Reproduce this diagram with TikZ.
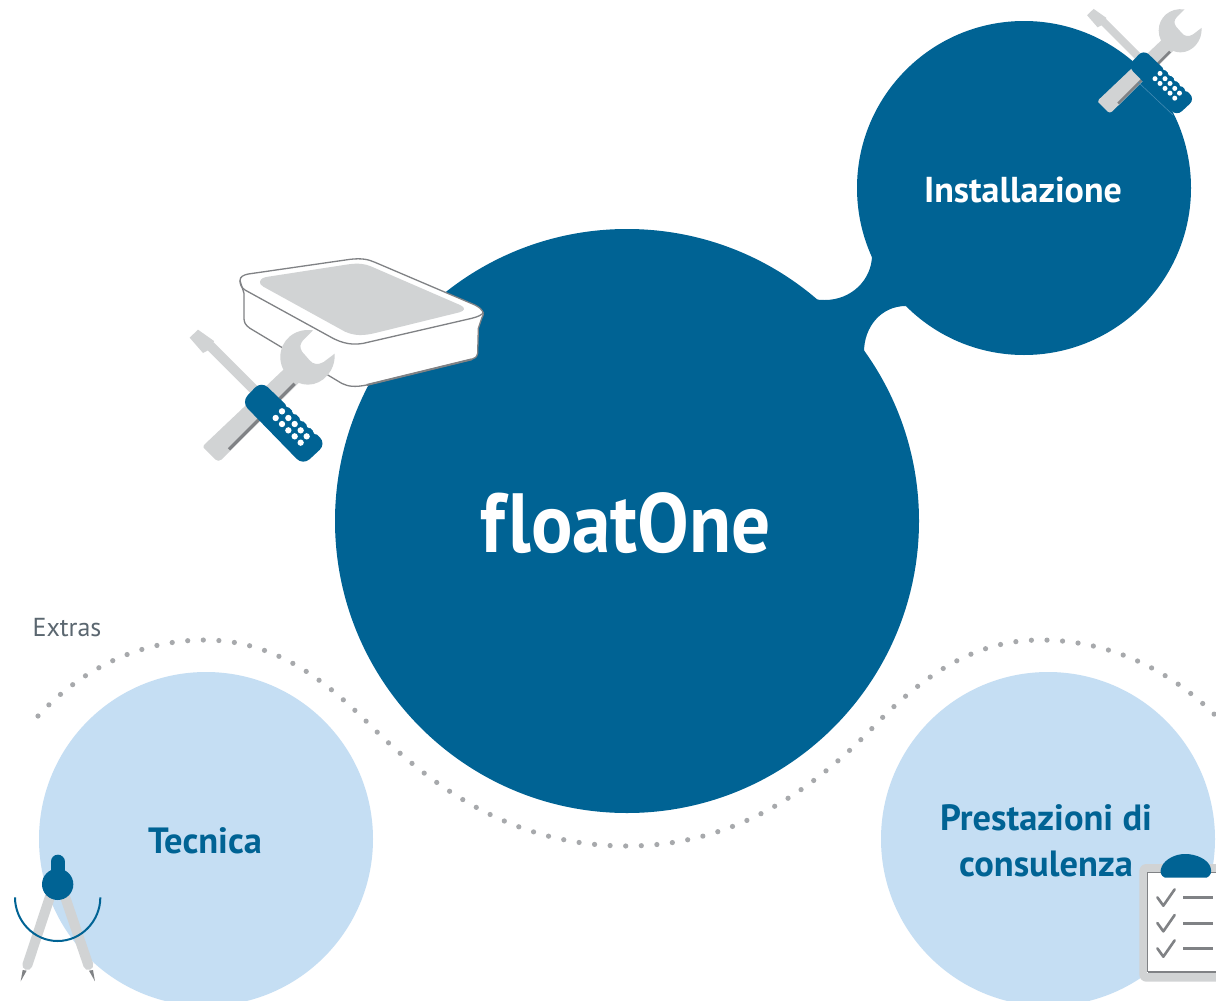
\documentclass[tikz,border=0pt]{standalone}
\usepackage{fontspec}
\setmainfont{PT Sans}
\definecolor{fblue}{HTML}{006394}
\definecolor{flight}{HTML}{C5DEF3}
\definecolor{tgray}{HTML}{D1D3D4}
\definecolor{dgray}{HTML}{808285}
\definecolor{dotgray}{HTML}{A7A9AC}
\definecolor{txtgray}{HTML}{5B6770}
\definecolor{edgeblue}{HTML}{4A90B8}
\tikzset{
  bigdisc/.style={circle,fill=fblue,draw=none,inner sep=0pt,minimum size=584pt},
  darkdisc/.style={circle,fill=fblue,draw=none,inner sep=0pt,minimum size=334pt},
  lightdisc/.style={circle,fill=flight,draw=none,inner sep=0pt,minimum size=334pt},
  whitelabel/.style={text=white,font=\bfseries\fontsize{36}{40}\selectfont,inner sep=0pt},
  bluelabel/.style={text=fblue,font=\bfseries\fontsize{36.5}{46}\selectfont,inner sep=0pt,align=center},
}
\newcommand{\toolset}[3]{%
\begin{scope}[shift={(#1,#2)},scale=#3/3,shift={(-250,-470)}]
  \fill[tgray] (30,262) -- (55,238) -- (103,272) -- (100,285) -- (85,300) -- (70,308) -- cycle;
  \draw[tgray,line width=#3*10pt] (92,287) -- (240,435);
  \fill[tgray] (72,592) .. controls (70,588) and (72,585) .. (75,582) -- (325,345) -- (375,380)
     -- (125,628) .. controls (120,633) and (112,632) .. (108,628) -- cycle;
  \draw[dgray,line width=#3*3.2pt] (148,597) -- (345,400);
  \fill[tgray] (400,240) .. controls (345,232) and (302,270) .. (302,320)
     .. controls (302,370) and (345,403) .. (385,403)
     .. controls (430,403) and (468,360) .. (465,310)
     -- (432,335) .. controls (415,345) and (400,342) .. (390,330)
     -- (368,305) .. controls (358,290) and (362,280) .. (370,270) -- cycle;
  \fill[fblue,rounded corners=#3*9pt] (245,392) -- (440,580) -- (370,645) -- (185,455) -- cycle;
  \foreach \px/\py in {307/483,288/503,326/503,307/521,345/521,326/540,363/540,345/558,381/558,363/577,
                       327/462,347/483,369/504,390/524,410/543}
    \fill[white] (\px,\py) circle[radius=9.5];
\end{scope}}
\begin{document}
\begin{tikzpicture}[x=1pt,y=-1pt]
  \path[clip] (0,0) rectangle (1216,1001);
  \fill[white] (0,0) rectangle (1216,1001);

  % dotted wave
  \draw[dotgray,line width=5.2pt,line cap=round,dash pattern=on 0pt off 15.6pt]
    (38,716) .. controls (85,665) and (145,640) .. (205,640)
    .. controls (275,640) and (325,680) .. (370,725)
    .. controls (440,795) and (520,846) .. (627,846)
    .. controls (730,846) and (810,795) .. (880,720)
    .. controls (925,675) and (975,640) .. (1040,640)
    .. controls (1110,640) and (1170,670) .. (1216,716);

  % discs
  \node[bigdisc] (main) at (627,521) {};
  \node[darkdisc] (inst) at (1024,188) {};
  \node[lightdisc] (tec) at (206,839) {};
  \node[lightdisc] (pres) at (1048,839) {};

  % bridge between the two dark discs
  \fill[fblue] (815,299) .. controls (818,300) and (822,300) .. (825,300)
     .. controls (851,300) and (872,280) .. (872,255)
     -- (906,306) .. controls (881,306) and (864,327) .. (864,352) -- cycle;

  % labels
  \node[whitelabel,font=\bfseries\fontsize{84}{90}\selectfont,xscale=0.92] (lmain) at (626,523) {f\kern3pt loatOne};
  \node[whitelabel] (linst) at (1023,190) {Installazione};
  \node[bluelabel] (ltec) at (205,841) {Tecnica};
  \node[bluelabel] (lpres) at (1046,841) {Prestazioni di\\consulenza};
  \node[text=txtgray,font=\fontsize{26}{30}\selectfont,inner sep=0pt] (lext) at (67,628) {Extras};

  % device
  \begin{scope}[shift={(180,250)},scale=1/3]
    \filldraw[fill=white,draw=dgray,line width=1.3pt]
      (180,92) .. controls (180,80) and (190,75) .. (205,72) -- (510,28)
      .. controls (545,24) and (565,28) .. (585,37) -- (885,165)
      .. controls (910,178) and (915,190) .. (905,205) -- (895,235) -- (893,310)
      .. controls (890,322) and (885,325) .. (875,328) -- (560,405)
      .. controls (525,412) and (505,410) .. (485,400) -- (210,235)
      .. controls (195,225) and (192,215) .. (192,205) -- (192,130) -- cycle;
    \draw[dgray,line width=1.3pt]
      (180,92) .. controls (180,105) and (185,113) .. (195,120) -- (450,260)
      .. controls (490,283) and (520,285) .. (550,280) -- (875,205)
      .. controls (895,200) and (905,195) .. (911,187);
    \draw[dgray,line width=2pt] (560,405) -- (875,328);
    \fill[tgray] (240,95) .. controls (242,85) and (252,82) .. (265,80) -- (505,43)
      .. controls (535,39) and (555,41) .. (575,50) -- (840,165)
      .. controls (858,174) and (855,182) .. (838,187) -- (590,248)
      .. controls (550,258) and (525,258) .. (495,245) -- (250,110)
      .. controls (242,105) and (238,100) .. (240,95) -- cycle;
  \end{scope}

  % tools
  \toolset{263}{407}{1}
  \toolset{1145}{70}{0.79}
  \draw[edgeblue,line width=0.5pt] (1138,82) -- (1173,115);

  % compass
  \begin{scope}[shift={(0,840)},scale=1/3]
    \fill[dgray] (68,390) -- (80,392) -- (62,424) -- cycle;
    \fill[dgray] (267,392) -- (279,390) -- (285,424) -- cycle;
    \draw[tgray,line width=10pt,line cap=round] (150,170) -- (82,375);
    \draw[tgray,line width=10pt,line cap=round] (195,170) -- (265,375);
    \draw[fblue,line width=2pt] (45,172) .. controls (45,243) and (102,303) .. (173,303)
       .. controls (244,303) and (301,243) .. (301,172);
    \draw[fblue,line width=14pt,line cap=round] (173,65) -- (173,115);
    \fill[fblue] (173,133) circle[radius=47];
  \end{scope}

  % clipboard
  \begin{scope}[shift={(1120,840)},scale=1/3]
    \fill[tgray,rounded corners=7pt] (58,72) rectangle (400,425);
    \fill[white] (82,95) rectangle (400,398);
    \draw[dgray,line width=1pt] (400,96) -- (83,96) -- (83,396);
    \draw[dgray,line width=1.6pt] (83,396) -- (400,396);
    \foreach \oy in {0,77,153} {
      \draw[dgray,line width=2.6pt,line cap=round,line join=round]
         (112,\oy+172) -- (130,\oy+197) -- (164,\oy+148);
      \draw[dgray,line width=3.2pt] (189,\oy+173) -- (280,\oy+173);
    }
    \fill[fblue] (135,113) .. controls (122,108) and (118,95) .. (125,80)
       .. controls (135,58) and (165,42) .. (195,42)
       .. controls (230,42) and (262,58) .. (271,80)
       .. controls (277,95) and (272,108) .. (260,113) -- cycle;
  \end{scope}
\end{tikzpicture}
\end{document}
